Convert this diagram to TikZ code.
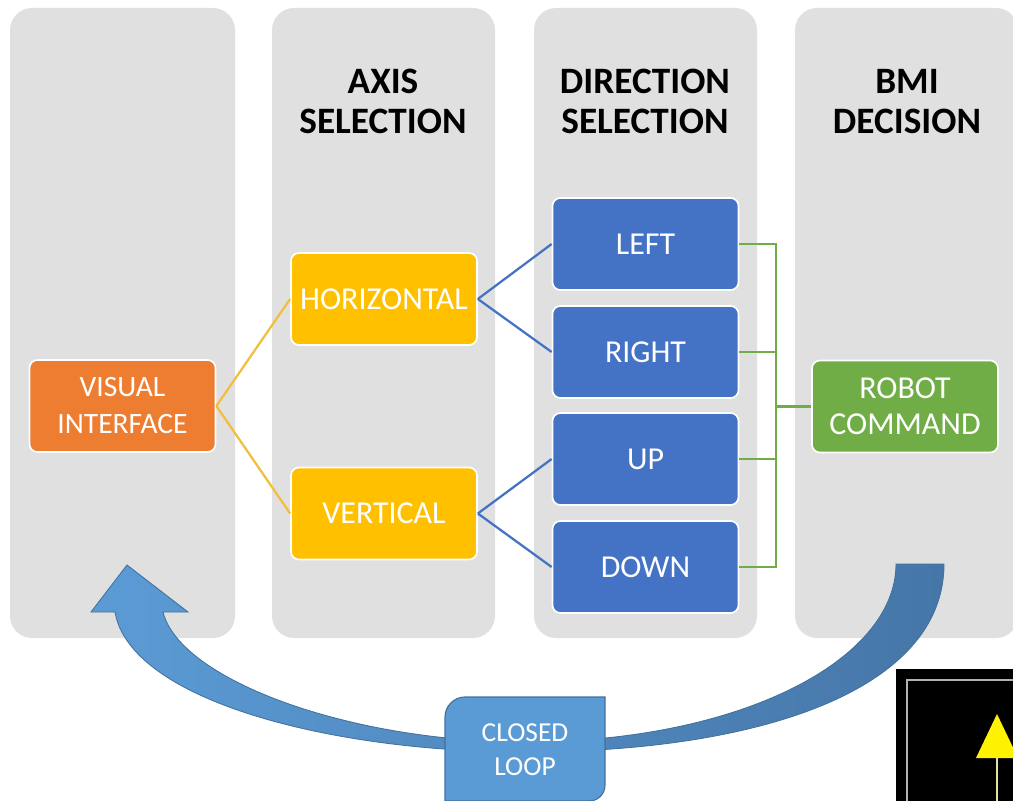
\documentclass[tikz,border=0pt]{standalone}
\usepackage{fontspec}
\setmainfont{Carlito}
\usepackage{tikz}

\definecolor{c-grigio}{HTML}{E0E0E0}
\definecolor{c-arancio}{HTML}{ED7D31}
\definecolor{c-giallo}{HTML}{FFC000}
\definecolor{c-gialloline}{HTML}{F2BE3E}
\definecolor{c-blu}{HTML}{4472C4}
\definecolor{c-verde}{HTML}{70AD47}
\definecolor{c-azzurro}{HTML}{5B9BD5}
\definecolor{c-blusc}{HTML}{4676A8}
\definecolor{c-bordo}{HTML}{41719C}
\definecolor{c-paglia}{HTML}{E6DFA0}

\begin{document}
\begin{tikzpicture}[x=0.025cm, y=-0.025cm]
\tikzstyle{box} = [draw=white, line width=1.2pt, rounded corners=0.2cm, minimum width=4.65cm, minimum height=2.3cm, inner sep=0, text=white, align=center, font=\fontsize{22.7}{26}\selectfont]
\tikzstyle{titolo} = [font=\bfseries\fontsize{26.5}{29}\selectfont, align=center, inner sep=0]
\tikzstyle{linea} = [line width=1.6pt]

\useasboundingbox (0,0) rectangle (1013,801);

% Colonne grigie
\foreach \xa/\xb in {10/235, 272/495, 534/757, 795/1018} {
  \fill[c-grigio, rounded corners=0.55cm] (\xa,8) rectangle (\xb,638);
}

% Titoli
\node[titolo] (t-asse) at (383,101.5) {AXIS\\SELECTION};
\node[titolo] (t-dir) at (645,101.5) {DIRECTION\\SELECTION};
\node[titolo] (t-bmi) at (907,101.5) {BMI\\DECISION};

% Blocchi
\node[box, fill=c-arancio, font=\fontsize{21}{26.3}\selectfont] (visual) at (122.5,406) {VISUAL\\INTERFACE};
\node[box, fill=c-giallo] (horiz) at (384,299) {HORIZONTAL};
\node[box, fill=c-giallo] (vert) at (384,513.5) {VERTICAL};
\foreach \nome/\testo/\y in {d-left/LEFT/244, d-right/RIGHT/352, d-up/UP/459, d-down/DOWN/567} {
  \node[box, fill=c-blu] (\nome) at (645.5,\y) {\testo};
}
\node[box, fill=c-verde, font=\fontsize{22.7}{25.6}\selectfont] (robot) at (905,406.5) {ROBOT\\COMMAND};

% Collegamenti
\foreach \target in {horiz,vert} {
  \draw[linea, c-gialloline] (visual.east) -- (\target.west);
}
\foreach \target in {d-left,d-right} {
  \draw[linea, c-blu] (horiz.east) -- (\target.west);
}
\foreach \target in {d-up,d-down} {
  \draw[linea, c-blu] (vert.east) -- (\target.west);
}
\coordinate (bus) at (776,406.5);
\foreach \n in {d-left,d-right,d-up,d-down} {
  \draw[linea, c-verde] (\n.east) -| (bus);
}
\draw[linea, c-verde] (robot.west) -- (bus);

% Freccia curva
\draw[draw=c-bordo, line width=0.6pt, left color=c-azzurro, right color=c-blusc]
  (944,564) .. controls (944,690) and (760,752) .. (525,752)
  .. controls (330,752) and (130,700) .. (115,612)
  -- (91,612) -- (127,565) -- (188,612) -- (163,612)
  .. controls (180,680) and (350,742) .. (525,742)
  .. controls (740,742) and (896,660) .. (896,564) -- cycle;

% Riquadro anello chiuso
\draw[fill=c-azzurro, draw=c-bordo, line width=0.8pt]
  (445,801) -- (445,717) .. controls (445,706) and (454,697) .. (465,697)
  -- (605,697) -- (605,785) .. controls (605,794) and (598,801) .. (589,801) -- cycle;
\node[text=white, align=center, inner sep=0, font=\fontsize{19.5}{24}\selectfont] (chiuso) at (525,749.5) {CLOSED\\LOOP};

% Schermo
\fill[black] (896,669) rectangle (1013,801);
\draw[gray!60, line width=1pt] (907,680) rectangle (1030,830);
\fill[yellow] (997,714) -- (976,758) -- (1018,758) -- cycle;
\draw[c-paglia, line width=1pt] (997,758) -- (997,801);

\end{tikzpicture}
\end{document}
